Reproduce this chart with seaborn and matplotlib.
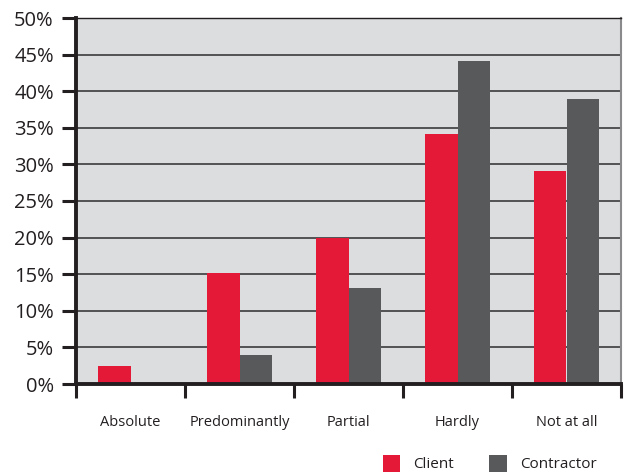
import matplotlib
matplotlib.use("Agg")
import matplotlib.pyplot as plt
from matplotlib.patches import Patch
from matplotlib.ticker import FixedLocator
import seaborn as sns
import pandas as pd

categories = ["Absolute", "Predominantly", "Partial", "Hardly", "Not at all"]
client = [2.5, 15.2, 19.9, 34.1, 29.1]
contractor = [0.0, 4.0, 13.1, 44.1, 39.0]
series = ["Client", "Contractor"]
y_ticks = [0, 5, 10, 15, 20, 25, 30, 35, 40, 45, 50]
y_labels = [f"{v}%" for v in y_ticks]

colors = {"Client": "#e31937", "Contractor": "#58595b"}

df = pd.DataFrame({
    "category": categories * 2,
    "share": client + contractor,
    "series": ["Client"] * len(categories) + ["Contractor"] * len(categories),
})

sns.set_style("white")
plt.rcParams["font.family"] = ["Open Sans", "DejaVu Sans"]

fig = plt.figure(figsize=(6.24, 4.72), dpi=100)
ax = fig.add_axes([76 / 624, 1 - 384 / 472, (621 - 76) / 624, (384 - 18) / 472])
ax.set_facecolor("#dcdddf")

sns.barplot(data=df, x="category", y="share", hue="series", order=categories,
            hue_order=series, palette=colors, width=0.6, saturation=1,
            edgecolor="none", linewidth=0, ax=ax, legend=False)

ax.set_xlim(-0.5, len(categories) - 0.5)
ax.set_ylim(0, 50)
ax.set_yticks(y_ticks)
ax.set_yticklabels(y_labels, fontsize=14.5, color="#231f20")
for v in y_ticks[1:]:
    ax.axhline(v, color="#3a3a3c", linewidth=1.2, zorder=0.5)

ax.set_xlabel("")
ax.set_ylabel("")
ax.tick_params(axis="x", which="major", length=0, pad=22, labelsize=10.5,
               labelcolor="#231f20")
ax.xaxis.set_minor_locator(FixedLocator([i - 0.5 for i in range(len(categories) + 1)]))
ax.tick_params(axis="x", which="minor", bottom=True, length=10, width=2.2,
               color="#231f20", direction="out")
ax.tick_params(axis="y", left=True, length=10, width=2.2, color="#231f20",
               direction="out", pad=6)

for side in ["left", "bottom"]:
    ax.spines[side].set_linewidth(2.8)
    ax.spines[side].set_color("#231f20")
ax.spines["right"].set_color("#8a8a8c")
ax.spines["right"].set_linewidth(1.5)
ax.spines["top"].set_color("#231f20")
ax.spines["top"].set_linewidth(1.0)

handles = [Patch(facecolor=colors[s], edgecolor="none", label=s) for s in series]
fig.legend(handles=handles, loc="lower right", bbox_to_anchor=(0.978, -0.03),
           ncol=2, frameon=False, fontsize=11, handlelength=1.15, handleheight=1.3,
           columnspacing=2.3, handletextpad=0.85, labelcolor="#231f20")

fig.savefig("out.png", dpi=100)
